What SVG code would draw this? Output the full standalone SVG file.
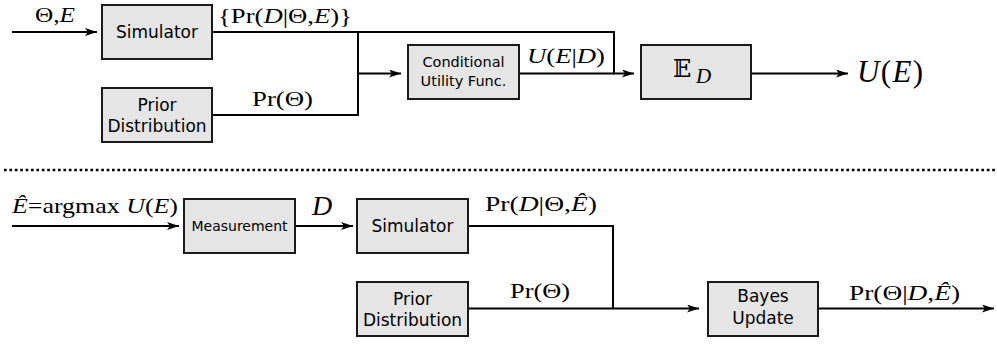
<svg xmlns="http://www.w3.org/2000/svg" width="997" height="346" viewBox="0 0 997 346">
<style>
.box{fill:#e5e5e5;stroke:#1a1a1a;stroke-width:2}
.ln{fill:none;stroke:#000;stroke-width:2}
.t{font-family:"DejaVu Sans",sans-serif;fill:#000;text-anchor:middle}
.m{font-family:"Liberation Serif",serif;fill:#000;font-size:22px}
.i{font-style:italic}
</style>
<defs>
<marker id="ar" markerUnits="userSpaceOnUse" markerWidth="14" markerHeight="10" refX="12" refY="4" orient="auto">
<path d="M0,0 L12,4 L0,8 L3,4 z" fill="#000"/>
</marker>
</defs>
<rect width="997" height="346" fill="#fff"/>
<g id="connectors">
<path class="ln" d="M12,32 H97" marker-end="url(#ar)"/>
<path class="ln" d="M212,32 H614 V73.5 H634" marker-end="url(#ar)"/>
<path class="ln" d="M212,115 H358 V32"/>
<path class="ln" d="M358,73.5 H401" marker-end="url(#ar)"/>
<path class="ln" d="M519,73.5 H614"/>
<path class="ln" d="M751,73.5 H848" marker-end="url(#ar)"/>
<path d="M4,170 H997" stroke="#000" stroke-width="2.6" stroke-dasharray="2.7 2.7" fill="none"/>
<path class="ln" d="M12,226 H179" marker-end="url(#ar)"/>
<path class="ln" d="M295,226 H353" marker-end="url(#ar)"/>
<path class="ln" d="M468,226 H613 V308.5"/>
<path class="ln" d="M468,308.5 H699" marker-end="url(#ar)"/>
<path class="ln" d="M818,308.5 H994" marker-end="url(#ar)"/>
</g>
<g id="labels">
<text class="m" x="35" y="22" textLength="40" lengthAdjust="spacingAndGlyphs">Θ,<tspan class="i">E</tspan></text>
<text class="m" x="218" y="23" textLength="134" lengthAdjust="spacingAndGlyphs">{Pr(<tspan class="i">D</tspan>|Θ,<tspan class="i">E</tspan>)}</text>
<text class="m" x="252" y="106" textLength="61" lengthAdjust="spacingAndGlyphs">Pr(Θ)</text>
<text class="m" x="527" y="63" textLength="78" lengthAdjust="spacingAndGlyphs"><tspan class="i">U</tspan>(<tspan class="i">E</tspan>|<tspan class="i">D</tspan>)</text>
<text class="m" x="857" y="82" style="font-size:31px" textLength="66" lengthAdjust="spacing"><tspan class="i">U</tspan>(<tspan class="i">E</tspan>)</text>
<text class="m" x="12" y="213" textLength="166" lengthAdjust="spacingAndGlyphs"><tspan class="i">Ê</tspan>=argmax <tspan class="i">U</tspan>(<tspan class="i">E</tspan>)</text>
<text class="m i" x="312" y="215" style="font-size:28px">D</text>
<text class="m" x="485" y="211" textLength="112" lengthAdjust="spacingAndGlyphs">Pr(<tspan class="i">D</tspan>|Θ,<tspan class="i">Ê</tspan>)</text>
<text class="m" x="510" y="298" textLength="60" lengthAdjust="spacingAndGlyphs">Pr(Θ)</text>
<text class="m" x="849" y="300" textLength="111" lengthAdjust="spacingAndGlyphs">Pr(Θ|<tspan class="i">D</tspan>,<tspan class="i">Ê</tspan>)</text>
</g>
<g id="simulator1">
<rect class="box" x="102" y="5" width="110" height="54"/>
<text class="t" x="157" y="38" style="font-size:17px">Simulator</text>
</g>
<g id="prior1">
<rect class="box" x="102" y="88" width="110" height="54"/>
<text class="t" x="157" y="111" style="font-size:17px">Prior</text>
<text class="t" x="157" y="132" style="font-size:17px">Distribution</text>
</g>
<g id="conditional">
<rect class="box" x="408" y="45" width="111" height="54"/>
<text class="t" x="463.5" y="67" style="font-size:14.5px">Conditional</text>
<text class="t" x="463.5" y="86" style="font-size:14.5px">Utility Func.</text>
</g>
<g id="expectation">
<rect class="box" x="641" y="45" width="110" height="54"/>
<text x="673" y="77" style="font-family:'DejaVu Serif','DejaVu Sans',serif;font-size:24px">𝔼</text>
<text class="i" x="696" y="83" style="font-family:'Liberation Serif',serif;font-size:21px">D</text>
</g>
<g id="measurement">
<rect class="box" x="184" y="199" width="111" height="54"/>
<text class="t" x="239.5" y="231" style="font-size:14px">Measurement</text>
</g>
<g id="simulator2">
<rect class="box" x="357" y="199" width="111" height="54"/>
<text class="t" x="412.5" y="232" style="font-size:17px">Simulator</text>
</g>
<g id="prior2">
<rect class="box" x="357" y="282" width="111" height="54"/>
<text class="t" x="412.5" y="305" style="font-size:17px">Prior</text>
<text class="t" x="412.5" y="326" style="font-size:17px">Distribution</text>
</g>
<g id="bayes">
<rect class="box" x="708" y="282" width="110" height="54"/>
<text class="t" x="763" y="302" style="font-size:17px">Bayes</text>
<text class="t" x="763" y="324" style="font-size:17px">Update</text>
</g>
</svg>
